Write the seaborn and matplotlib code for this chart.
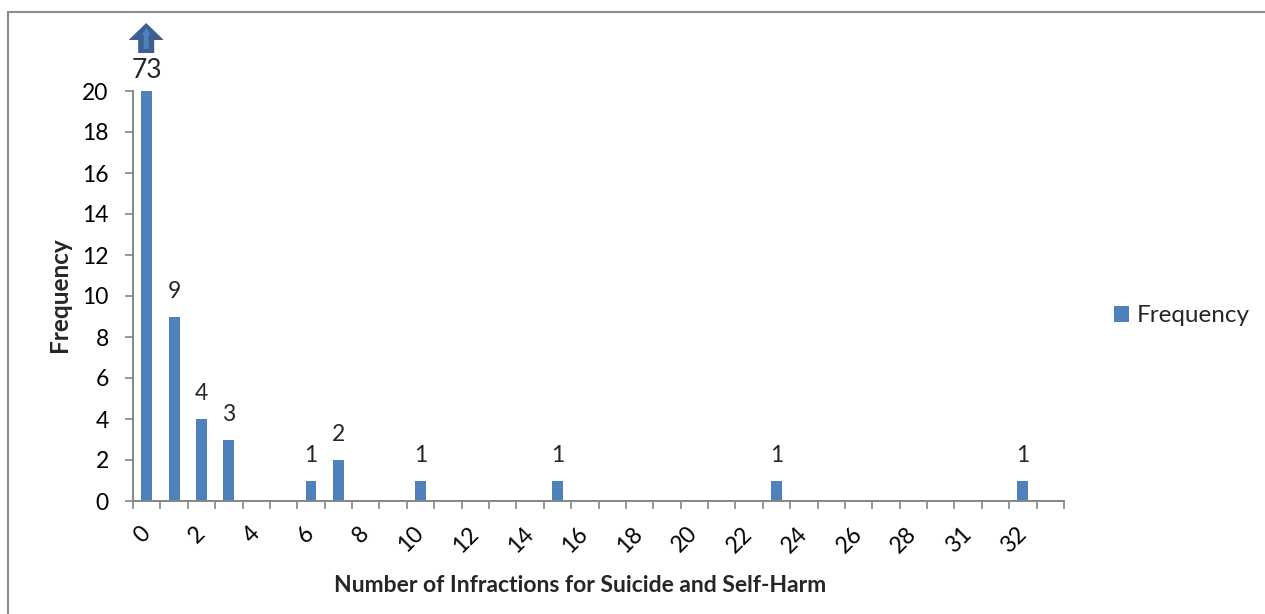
import numpy as np
import pandas as pd
import matplotlib
matplotlib.use("Agg")
import matplotlib.pyplot as plt
import seaborn as sns
from matplotlib import transforms
from matplotlib.patches import Polygon, Rectangle, Patch

# Category slots on the x axis (34 slots, every other one labelled)
n_slots = 34
tick_labels = ["0", "2", "4", "6", "8", "10", "12", "14", "16", "18",
               "20", "22", "24", "26", "28", "31", "32"]

# Slots that hold a non-zero frequency and their counts
bar_slots = [0, 1, 2, 3, 6, 7, 10, 15, 23, 32]
frequencies = [73, 9, 4, 3, 1, 2, 1, 1, 1, 1]

y_max = 20
y_ticks = list(range(0, 21, 2))

BAR = "#4F81BD"
ARROW_DARK = "#3B6091"
GRID_GRAY = "#868686"
TICK_SIZE = 16.5

sns.set_theme(style="white")
plt.rcParams["font.family"] = ["Lato", "DejaVu Sans"]

freq_by_slot = dict(zip(bar_slots, frequencies))
df = pd.DataFrame({
    "slot": list(range(n_slots)),
    "Frequency": [freq_by_slot.get(s, 0) for s in range(n_slots)],
})

fig = plt.figure(figsize=(12.65, 6.14), dpi=100)
W, H = 1265, 614
ax = fig.add_axes([133 / W, 1 - 501 / H, (1064 - 133) / W, (501 - 91) / H])

sns.barplot(data=df, x="slot", y="Frequency", color=BAR, saturation=1,
            width=0.4, ax=ax, errorbar=None)
for p in ax.patches:
    p.set_linewidth(0)

ax.set_xlim(-0.5, n_slots - 0.5)
ax.set_ylim(0, y_max)
ax.set_xlabel("")
ax.set_ylabel("")

for side in ["top", "right"]:
    ax.spines[side].set_visible(False)
for side in ["left", "bottom"]:
    ax.spines[side].set_color(GRID_GRAY)
    ax.spines[side].set_linewidth(1.4)

ax.set_yticks(y_ticks)
ax.set_yticklabels([str(v) for v in y_ticks])
ax.tick_params(axis="y", which="major", direction="out", length=5.5,
               width=1.2, color=GRID_GRAY, pad=12, labelsize=TICK_SIZE,
               labelcolor="black", left=True)

ax.set_xticks(list(range(0, n_slots, 2)))
ax.set_xticklabels(tick_labels)
ax.tick_params(axis="x", which="major", length=0, pad=21, labelsize=TICK_SIZE,
               labelcolor="black", bottom=True)
plt.setp(ax.get_xticklabels(), rotation=45, ha="right", va="center",
         rotation_mode="anchor")
ax.set_xticks(np.arange(-0.5, n_slots, 1.0), minor=True)
ax.tick_params(axis="x", which="minor", direction="out", length=6,
               width=1.2, color=GRID_GRAY, bottom=True)

# Value labels above each bar (capped at the top of the axis)
for s, v in zip(bar_slots, frequencies):
    clipped = v > y_max
    shown = min(v, y_max)
    ax.annotate(str(v), xy=(s, shown), xytext=(0, 9.5 if clipped else 13.5),
                textcoords="offset points", ha="center", va="baseline",
                fontsize=19 if clipped else TICK_SIZE, annotation_clip=False)

# Up arrow over the truncated bar
for s, v in zip(bar_slots, frequencies):
    if v <= y_max:
        continue
    base = fig.dpi_scale_trans + transforms.ScaledTranslation(s, y_max, ax.transData)
    px = 1 / 100.0
    outer = np.array([(-0.5, 68), (17, 51), (7.5, 51), (7.5, 38), (-8.5, 38),
                      (-8.5, 51), (-18, 51)]) * px
    inner = np.array([(-0.5, 63), (4, 56), (2, 56), (2, 42), (-3, 42),
                      (-3, 56), (-5, 56)]) * px
    ax.add_patch(Polygon(outer, closed=True, facecolor=ARROW_DARK,
                         edgecolor="none", transform=base, clip_on=False))
    ax.add_patch(Polygon(inner, closed=True, facecolor=BAR,
                         edgecolor="none", transform=base, clip_on=False))

# Axis titles
fig.text(580 / W, 1 - 585 / H, "Number of Infractions for Suicide and Self-Harm",
         ha="center", va="center", fontsize=16.5, fontweight="bold")
fig.text(60 / W, 1 - 295 / H, "Frequency", ha="center", va="center",
         rotation=90, fontsize=17.5, fontweight="bold")

# Legend
handle = Patch(facecolor=BAR, edgecolor="none", label="Frequency")
fig.legend(handles=[handle], loc="center left",
           bbox_to_anchor=(1114 / W, 1 - 316 / H), frameon=False,
           fontsize=17.5, handlelength=0.6, handleheight=0.6,
           handletextpad=0.35, borderpad=0, borderaxespad=0)

# Outer chart frame
fig.add_artist(Rectangle((8 / W, -0.05), 1.2, 1 - 12 / H + 0.05,
                         transform=fig.transFigure, fill=False,
                         edgecolor="#8C8C8C", linewidth=1.5))

fig.savefig("out.png", dpi=100, facecolor="white")
